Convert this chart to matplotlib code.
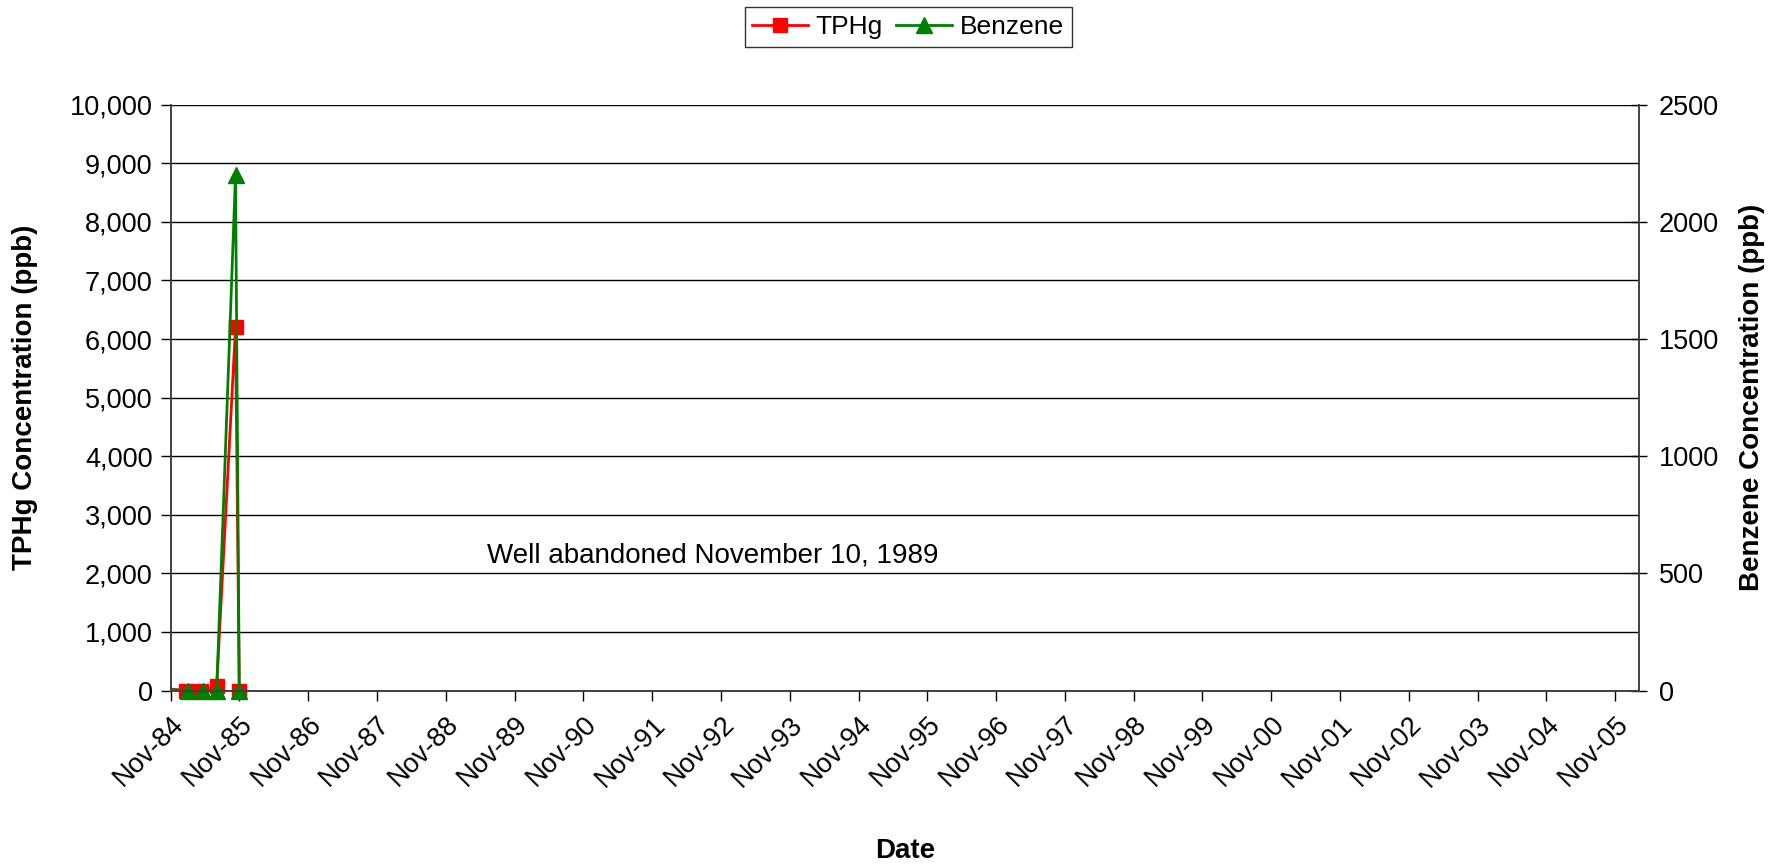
import matplotlib
matplotlib.use("Agg")
import matplotlib.pyplot as plt
import matplotlib.dates as mdates
from matplotlib.ticker import FuncFormatter, MultipleLocator
from matplotlib.legend_handler import HandlerTuple
import pandas as pd

plt.rcParams['font.family'] = ['Liberation Sans', 'DejaVu Sans']

# Groundwater sampling results for the well
tphg_dates = ["1984-09-15", "1985-01-20", "1985-04-10", "1985-07-03", "1985-10-11", "1985-10-31"]
tphg_ppb = [40, 0, 0, 75, 6200, 0]

benzene_dates = ["1984-09-15", "1985-02-02", "1985-04-20", "1985-07-03", "1985-10-11", "1985-10-31"]
benzene_ppb = [5, 0, 0, 0, 2200, 0]

tick_dates = pd.date_range("1984-11-01", "2005-11-01", freq="12MS")
tick_labels = [d.strftime("%b-%y") for d in tick_dates]

x_start = pd.Timestamp("1984-11-01")
x_end = pd.Timestamp("2006-03-10")

TICK_FS = 19.5
LABEL_FS = 20

fig = plt.figure(figsize=(17.84, 8.67), dpi=100)
ax = fig.add_axes([0.0957, 0.2035, 0.8233, 0.6757])
ax2 = ax.twinx()

ax.set_xlim(x_start, x_end)
ax.set_ylim(0, 10000)
ax2.set_ylim(0, 2500)

ax.yaxis.set_major_locator(MultipleLocator(1000))
ax.yaxis.set_major_formatter(FuncFormatter(lambda v, p: f"{int(v):,}"))
ax2.yaxis.set_major_locator(MultipleLocator(500))

ax.grid(axis='y', color='black', linewidth=1.0)
ax.set_axisbelow(True)

ax.set_xticks(mdates.date2num(tick_dates))
ax.set_xticklabels(tick_labels, rotation=45, ha='right', rotation_mode='anchor')

for a in (ax, ax2):
    a.spines['top'].set_visible(False)
    for sp in a.spines.values():
        sp.set_color('#404040')
        sp.set_linewidth(1.2)

ax.tick_params(axis='y', direction='out', length=7, width=1.0, labelsize=TICK_FS, pad=6)
ax.tick_params(axis='x', direction='out', length=7, width=1.0, labelsize=TICK_FS, pad=8)
ax2.tick_params(axis='y', direction='inout', length=12, width=1.0, labelsize=TICK_FS, pad=8)

t_dates = pd.to_datetime(tphg_dates)
b_dates = pd.to_datetime(benzene_dates)

# lines are clipped to the plot area; markers may overhang the zero line
t_line, = ax.plot(t_dates, tphg_ppb, color='#FF0000', linewidth=2.0)
t_mark, = ax.plot(t_dates[1:], tphg_ppb[1:], linestyle='none', marker='s',
                  markersize=10.5, color='#FF0000', clip_on=False)
b_line, = ax2.plot(b_dates, benzene_ppb, color='#008000', linewidth=2.0)
b_mark, = ax2.plot(b_dates[1:], benzene_ppb[1:], linestyle='none', marker='^',
                   markersize=12, color='#008000', clip_on=False)

ax.set_ylabel("TPHg Concentration (ppb)", fontsize=LABEL_FS, fontweight='bold', va='center')
ax.yaxis.set_label_coords(-0.0992, 0.5)
ax2.set_ylabel("Benzene Concentration (ppb)", fontsize=LABEL_FS, fontweight='bold', va='center')
ax2.yaxis.set_label_coords(1.0765, 0.5)
ax.set_xlabel("Date", fontsize=LABEL_FS, fontweight='bold', va='center')
ax.xaxis.set_label_coords(0.5, -0.274)

ax.text(pd.Timestamp("1989-06-05"), 2300, "Well abandoned November 10, 1989",
        fontsize=20, ha='left', va='center')

leg = fig.legend(handles=[(t_line, t_mark), (b_line, b_mark)], labels=["TPHg", "Benzene"],
                 handler_map={tuple: HandlerTuple(ndivide=1, pad=0)},
                 loc='upper center', bbox_to_anchor=(0.509, 0.992),
                 ncol=2, fontsize=19, frameon=True, fancybox=False, edgecolor='black',
                 handlelength=2.1, columnspacing=0.5, handletextpad=0.3,
                 borderpad=0.3, borderaxespad=0.0)
leg.get_frame().set_linewidth(1.0)

fig.savefig("out.png", dpi=100)
